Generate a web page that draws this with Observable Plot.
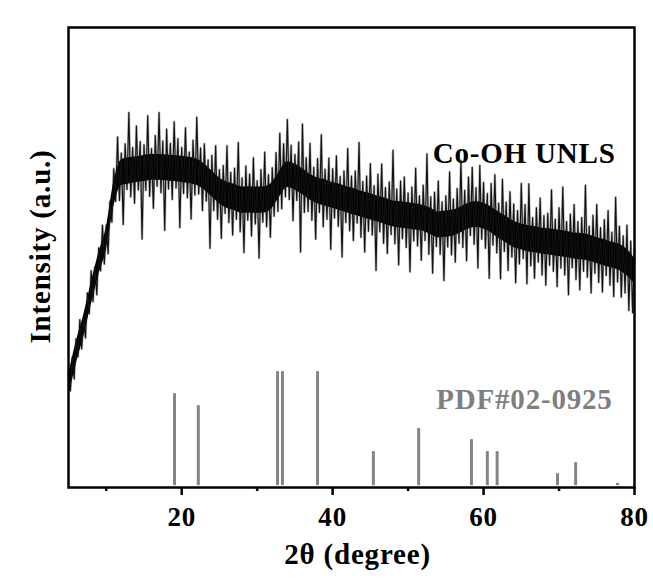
<!DOCTYPE html>
<html>
<head>
<meta charset="utf-8">
<script src="https://cdn.jsdelivr.net/npm/d3@7"></script>
<script src="https://cdn.jsdelivr.net/npm/@observablehq/plot@0.6"></script>
<style>
  html, body { margin: 0; padding: 0; background: #ffffff; }
  #chart svg text { letter-spacing: 0.8px; }
</style>
</head>
<body>
<div id="chart"></div>
<script>
// XRD scan of Co-OH UNLS: step scan starting at 5°, 0.25° step (intensity in a.u.)
const scanStart = 5;
const scanStep = 0.25;
const intensity = [
  24.7, 21.0, 28.3, 23.6, 32.3, 28.4, 36.5, 30.1, 36.8, 32.5, 42.3, 37.8, 47.1, 40.4, 47.9, 41.9, 52.1, 47.1, 57.0, 48.6, 57.0, 50.8, 62.2, 57.7, 69.3,
  62.2, 76.2, 62.4, 72.7, 57.2, 74.7, 64.8, 81.5, 63.2, 73.9, 61.8, 78.6, 64.7, 75.2, 54.0, 74.5, 64.6, 80.8, 63.3, 73.7, 60.7, 76.5, 65.5, 81.5, 64.1, 75.3,
  55.9, 77.9, 64.9, 74.8, 62.6, 79.5, 65.1, 75.8, 56.5, 73.9, 63.9, 78.2, 63.0, 72.9, 58.4, 75.5, 63.6, 80.5,
  63.8, 73.8, 60.2, 74.7, 62.3, 71.2, 52.0, 72.2, 60.2, 74.3, 58.3, 69.1, 54.2, 70.0, 59.6, 74.3, 57.6, 68.5, 54.9, 69.4,
  58.3, 75.0, 55.6, 67.3, 51.1, 69.9, 58.1, 68.1, 54.7, 71.7, 57.3, 66.7, 49.9, 69.1, 57.7, 72.9, 56.7, 68.0, 54.4, 69.5,
  59.0, 72.8, 60.0, 77.0, 60.6, 74.7, 63.2, 80.0, 62.6, 74.4, 58.0, 72.4, 62.4, 75.1, 51.2, 79.0,
  59.8, 71.7, 60.0, 74.8, 58.1, 69.6, 54.0, 71.5, 59.8, 76.7, 56.7, 69.2, 58.3, 71.6, 51.8, 69.3,
  58.6, 72.1, 56.8, 67.6, 50.1, 68.8, 57.6, 73.7, 55.8, 67.7, 53.7, 68.8, 57.5, 75.0, 54.4, 66.5, 51.2, 67.7, 55.7, 70.4,
  54.9, 65.6, 47.2, 68.1, 55.6, 70.3, 53.1, 65.2, 50.9, 66.4, 55.0, 73.3, 53.0, 64.9, 48.4, 66.6, 54.1, 67.5, 52.2, 64.0,
  46.9, 65.3, 53.6, 69.4, 52.5, 63.4, 49.4, 65.7, 53.7, 72.5, 50.7, 63.2, 46.6, 64.2, 52.4, 66.6, 50.7, 62.1, 45.0, 63.4,
  52.3, 68.6, 50.6, 62.7, 49.0, 65.0, 53.1, 71.1, 52.2, 64.6, 49.3, 67.5, 54.8, 69.6, 52.9, 65.2, 47.7, 70.0, 54.0, 66.3,
  52.0, 63.9, 45.5, 66.1, 52.7, 68.0, 51.0, 61.8, 45.4, 67.0, 51.3, 62.0, 47.2, 64.3, 50.1, 61.6, 44.5, 60.2, 48.6, 66.1,
  49.8, 61.5, 44.3, 66.0, 48.2, 58.7, 45.5, 60.8, 49.0, 62.9, 46.2, 59.1, 44.0, 59.6, 48.3, 64.7, 47.0, 58.3, 43.7, 60.8,
  47.7, 65.3, 46.2, 57.8, 41.9, 59.4, 47.8, 61.5, 45.2, 57.8, 43.0, 58.7, 47.0, 65.7, 45.7, 56.8, 42.3, 59.2, 46.6, 61.5,
  44.6, 56.5, 42.5, 58.2, 46.1, 60.2, 44.0, 55.5, 41.5, 63.1, 44.7, 56.8, 41.4, 54.7, 42.3, 57.0, 38.5, 53.6, 38.0, 52.0
];

// Dense core of the noisy trace (lower / upper edge), read every 1° from 5° to 80°
const coreStart = 5;
const coreStep = 1;
const coreLow = [
  19.6, 26.7, 32.6, 39.6, 46.1, 51.6, 61.0, 65.6, 66.0, 66.3, 66.5, 66.8, 66.8, 66.7, 66.5, 66.3,
  66.1, 65.7, 64.7, 63.2, 61.7, 60.7, 60.2, 59.6, 59.7, 59.6, 59.7, 60.7, 63.2, 65.2, 64.7, 63.7,
  62.5, 61.7, 61.2, 60.7, 60.2, 59.7, 59.2, 58.7, 58.2, 57.7, 57.2, 56.7, 56.4, 56.2, 56.0, 55.7,
  55.0, 54.3, 54.4, 54.7, 55.4, 56.2, 56.5, 56.2, 55.4, 54.2, 53.2, 52.2, 51.7, 51.2, 51.0, 50.7,
  50.5, 50.2, 50.0, 49.7, 49.5, 49.2, 48.7, 48.2, 47.7, 47.2, 46.1, 44.2
];
const coreHigh = [
  24.4, 31.5, 37.4, 44.4, 50.9, 56.4, 66.3, 71.2, 71.7, 71.9, 72.2, 72.4, 72.4, 72.3, 72.2, 72.0,
  71.8, 71.4, 70.3, 68.8, 67.3, 66.4, 65.9, 65.3, 65.4, 65.3, 65.4, 66.3, 68.8, 70.8, 70.3, 69.3,
  68.1, 67.3, 66.9, 66.3, 65.9, 65.3, 64.9, 64.3, 63.9, 63.3, 62.9, 62.3, 62.1, 61.9, 61.7, 61.3,
  60.7, 59.9, 60.1, 60.3, 61.0, 61.8, 62.1, 61.8, 61.0, 59.9, 58.9, 57.9, 57.3, 56.9, 56.7, 56.3,
  56.2, 55.9, 55.7, 55.3, 55.2, 54.9, 54.3, 53.9, 53.3, 52.9, 51.8, 49.8
];

// Reference pattern PDF#02-0925: peak positions (2θ) and relative heights
const refPositions = [19.05, 22.2, 32.7, 33.35, 38.0, 45.4, 51.4, 58.4, 60.5, 61.8, 69.8, 72.2, 77.75];
const refHeights   = [20.4, 17.8, 25.2, 25.2, 25.2, 7.8, 12.8, 10.4, 7.8, 7.8, 3.0, 5.4, 0.9];

const majorTicks = [20, 40, 60, 80];
const minorTicks = [10, 30, 50, 70];

const sampleLabel = "Co-OH UNLS";
const refLabel = "PDF#02-0925";
const xTitle = "2θ (degree)";
const yTitle = "Intensity (a.u.)";

const trace = intensity.map((v, i) => ({theta: scanStart + i * scanStep, v}));
const core = coreLow.map((lo, i) => ({theta: coreStart + i * coreStep, lo, hi: coreHigh[i]}));
const sticks = refPositions.map((p, i) => ({p, h: refHeights[i]}));

const font = "'Liberation Serif', 'Times New Roman', Times, serif";

const chart = Plot.plot({
  width: 653,
  height: 588,
  marginLeft: 68,
  marginRight: 19,
  marginTop: 27,
  marginBottom: 101,
  style: {fontFamily: font, fontWeight: "bold", fontSize: "27px", background: "#ffffff", color: "#000"},
  x: {domain: [5, 80]},
  y: {domain: [0, 100]},
  marks: [
    Plot.ruleX(sticks, {x: "p", y1: 0.4, y2: "h", stroke: "#858585", strokeWidth: 3}),
    Plot.line(trace, {x: "theta", y: "v", stroke: "#000", strokeWidth: 2.4, strokeOpacity: 0.3}),
    Plot.areaY(core, {x: "theta", y1: "lo", y2: "hi", fill: "#000", curve: "monotone-x"}),
    Plot.line(trace, {x: "theta", y: "v", stroke: "#111", strokeWidth: 1.1}),
    Plot.frame({stroke: "#000", strokeWidth: 2.5}),
    Plot.axisX({ticks: majorTicks, tickSize: 8, tickPadding: 11, strokeWidth: 2.5, fontSize: 27, fontWeight: "bold", fontFamily: font, label: null}),
    Plot.axisX({ticks: minorTicks, tickSize: 4, strokeWidth: 2.5, tickFormat: () => "", label: null}),
    Plot.axisY({ticks: [], label: null}),
    Plot.text([sampleLabel], {x: 77.5, y: 72.6, text: d => d, textAnchor: "end", lineAnchor: "middle", fontSize: 29, fontWeight: "bold", fontFamily: font, fill: "#000"}),
    Plot.text([refLabel], {x: 77.1, y: 19.1, text: d => d, textAnchor: "end", lineAnchor: "middle", fontSize: 29, fontWeight: "bold", fontFamily: font, fill: "#7f7f7f"}),
    Plot.text([xTitle], {x: 43.3, y: -14.6, text: d => d, lineAnchor: "middle", fontSize: 29, fontWeight: "bold", fontFamily: font, fill: "#000"}),
    Plot.text([yTitle], {x: 1.3, y: 52.4, text: d => d, rotate: -90, lineAnchor: "middle", fontSize: 29, fontWeight: "bold", fontFamily: font, fill: "#000"})
  ]
});
document.getElementById("chart").appendChild(chart);
</script>
</body>
</html>
